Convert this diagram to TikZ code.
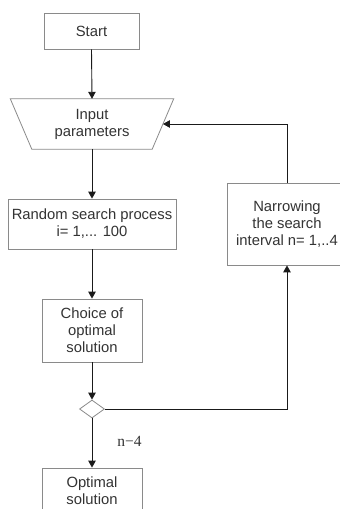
\documentclass[tikz,border=0pt]{standalone}
\usepackage{fontspec}
\setmainfont{Liberation Sans}
\newfontfamily\labelserif{Liberation Serif}
\usetikzlibrary{arrows.meta,calc,shapes.geometric}
\definecolor{boxline}{HTML}{8A8A8A}
\definecolor{txt}{HTML}{333333}
\definecolor{wire}{HTML}{1A1A1A}
\tikzset{
  x=1pt, y=1pt,
  procbox/.style={draw=boxline, line width=0.8pt, fill=white, rectangle,
    align=center, inner sep=0pt, text=txt,
    font=\fontsize{14.8}{17}\selectfont},
  flow/.style={draw=wire, line width=0.9pt,
    -{Triangle[length=7pt,width=7.5pt]}},
  flowline/.style={draw=wire, line width=0.9pt}
}
\begin{document}
\begin{tikzpicture}
\useasboundingbox (0,0) rectangle (340,-509);
\clip (0,0) rectangle (340,-509);

% process steps
\node[procbox, minimum width=95, minimum height=36] (start) at (91.5,-31) {Start};
\node[rectangle, inner sep=0pt, minimum width=141.5, minimum height=50,
      align=center, text=txt, font=\fontsize{14.8}{17}\selectfont]
      (input) at (92,-124) {Input\\parameters};
\draw[draw=boxline, line width=0.8pt]
  ($(input.north west)+(-10.75,0)$) -- ($(input.north east)+(10.75,0)$)
  -- ($(input.south east)+(-10.75,0)$) -- ($(input.south west)+(10.75,0)$) -- cycle;
\node[procbox, minimum width=168, minimum height=50] (random) at (92,-224)
  {Random search process\\i= 1,... 100};
\node[procbox, minimum width=100, minimum height=63] (choice) at (92,-330.5)
  {Choice of\\optimal\\solution};
\node[draw=boxline, line width=0.8pt, fill=white, diamond, inner sep=0pt,
      minimum width=25, minimum height=18] (test) at (92,-409) {};
\node[procbox, minimum width=100, minimum height=46] (optimal) at (92,-491)
  {Optimal\\solution};
\node[procbox, minimum width=120, minimum height=82] (narrow) at (287,-224)
  {Narrowing\\the search\\interval n= 1,..4};
\node[text=txt, font=\labelserif\fontsize{15.5}{17}\selectfont, inner sep=0pt]
  (stopcond) at (129.5,-441) {n−4};

% connectors
\draw[flow] (start.south) -- (input.north);
\draw[flow] (input.south) -- (random.north);
\draw[flow] (random.south) -- (choice.north);
\draw[flow] (choice.south) -- (test.north);
\draw[flow] (test.south) -- (optimal.north);
\draw[flow] (test.east) -| (narrow.south);
\draw[flow] (narrow.north) |- (input.east);
\end{tikzpicture}
\end{document}
